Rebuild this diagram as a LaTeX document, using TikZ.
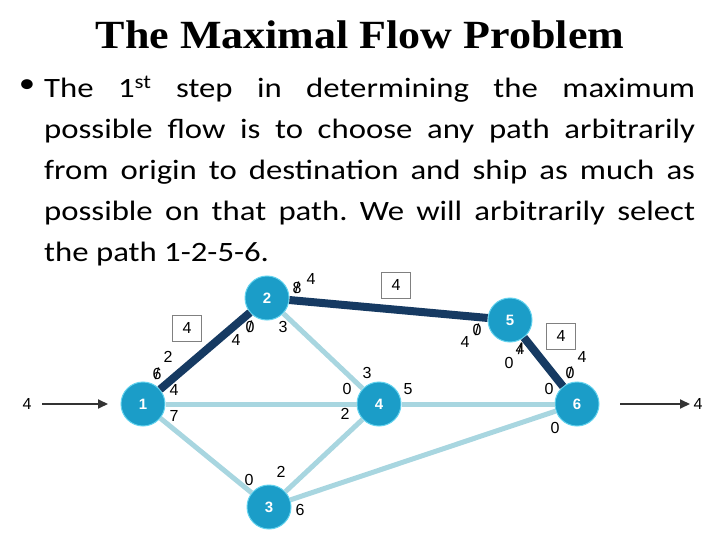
\documentclass[tikz,border=0pt]{standalone}
\usepackage{fontspec}
\setmainfont{Carlito}[FakeStretch=1.17]
\newfontfamily\titlefont{Liberation Serif}[FakeStretch=1.1]
\newfontfamily\labfont{Liberation Sans}
\usetikzlibrary{arrows.meta}
\definecolor{nodeblue}{HTML}{1B9DC8}
\definecolor{glow}{HTML}{62D2EE}
\definecolor{darkpath}{HTML}{163A62}
\definecolor{lightpath}{HTML}{A8D6E0}
\definecolor{boxgray}{HTML}{808080}
\newcommand{\crossed}[1]{\ooalign{#1\cr\hidewidth/\hidewidth}}
\tikzset{
  nd/.style={circle,fill=nodeblue,draw=glow,line width=1pt,minimum size=44pt,inner sep=0pt,text=white,font=\labfont\bfseries\fontsize{15}{15}\selectfont},
  used/.style={darkpath,line width=8pt},
  unused/.style={lightpath,line width=5pt},
  lab/.style={font=\labfont\fontsize{16}{16}\selectfont,inner sep=0pt},
  flowbox/.style={draw=boxgray,line width=0.8pt,minimum width=29pt,minimum height=26pt,inner sep=0pt,font=\labfont\fontsize{16}{16}\selectfont},
  ext/.style={-{Triangle[length=10pt,width=9pt]},black!80,line width=2pt},
}
\begin{document}
\begin{tikzpicture}[x=1pt,y=-1pt]
\useasboundingbox (0,0) rectangle (720,540);
% title and text
\node[font=\titlefont\bfseries\fontsize{40}{40}\selectfont] (title) at (360,35) {The Maximal Flow Problem};
\node[font=\fontsize{28}{41}\selectfont,inner sep=0pt] (bullet) at (27,86) {•};
\node[anchor=north west,inner sep=0pt,text width=651pt,align=justify,font=\fontsize{28}{41}\selectfont] (body) at (44,76)
  {\noindent\frenchspacing The 1\textsuperscript{st} step in determining the maximum\linebreak
   possible flow is to choose any path arbitrarily\linebreak
   from origin to destination and ship as much as\linebreak
   possible on that path. We will arbitrarily select\linebreak
   the path 1-2-5-6.};
% network
\node[nd] (n1) at (143,404) {1};
\node[nd] (n2) at (267,298) {2};
\node[nd] (n3) at (269,507) {3};
\node[nd] (n4) at (379,404) {4};
\node[nd] (n5) at (510,320) {5};
\node[nd] (n6) at (577,404) {6};
\draw[unused] (n2) -- (n4);
\draw[unused] (n1) -- (n4);
\draw[unused] (n1) -- (n3);
\draw[unused] (n4) -- (n6);
\draw[unused] (n3) -- (n4);
\draw[unused] (n3) -- (n6);
\draw[used] (n1) -- (n2);
\draw[used] (n2) -- (n5);
\draw[used] (n5) -- (n6);
\coordinate (src) at (42,404);
\coordinate (snk) at (690,404);
\node[lab] (inflow) at (27,404) {4};
\node[lab] (outflow) at (698,404) {4};
\draw[ext] (src) -- ++(66,0);
\draw[ext] (620,404) -- (snk);
% flow boxes
\node[flowbox] (b12) at (187,328) {4};
\node[flowbox] (b25) at (396,285) {4};
\node[flowbox] (b56) at (561,336) {4};
% capacities
\node[lab] at (168,357) {2};
\node[lab] at (157,374) {\crossed{6}};
\node[lab] at (174,390) {4};
\node[lab] at (174,416) {7};
\node[lab] at (297,288) {\crossed{8}};
\node[lab] at (311,279) {4};
\node[lab] at (250,327) {\crossed{0}};
\node[lab] at (236,340) {4};
\node[lab] at (283,327) {3};
\node[lab] at (477,330) {\crossed{0}};
\node[lab] at (465,342) {4};
\node[lab] at (520,349) {\crossed{4}};
\node[lab] at (509,363) {0};
\node[lab] at (570,373) {\crossed{0}};
\node[lab] at (582,357) {4};
\node[lab] at (549,389) {0};
\node[lab] at (555,428) {0};
\node[lab] at (367,373) {3};
\node[lab] at (347,389) {0};
\node[lab] at (345,414) {2};
\node[lab] at (408,389) {5};
\node[lab] at (249,480) {0};
\node[lab] at (281,472) {2};
\node[lab] at (300,510) {6};
\end{tikzpicture}
\end{document}
